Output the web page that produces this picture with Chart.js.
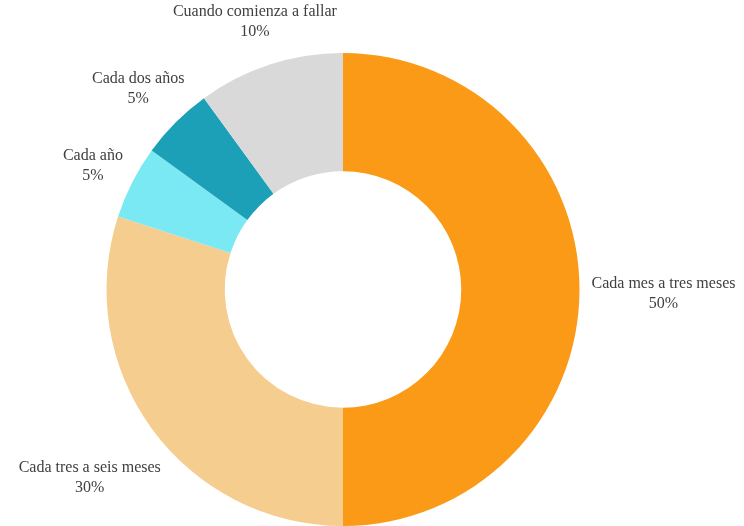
<!DOCTYPE html>
<html>
<head>
<meta charset="utf-8">
<script src="https://cdn.jsdelivr.net/npm/chart.js@4.4.1/dist/chart.umd.min.js"></script>
<style>
  html, body { margin: 0; padding: 0; background: #ffffff; }
  #wrap { width: 744px; height: 526px; }
</style>
</head>
<body>
<div id="wrap"><canvas id="chart" width="744" height="526"></canvas></div>
<script>
const categories = [
  "Cada mes a tres meses",
  "Cada tres a seis meses",
  "Cada año",
  "Cada dos años",
  "Cuando comienza a fallar"
];
const percentages = [50, 30, 5, 5, 10];
const sliceColors = ["#FA9A16", "#F5CE8F", "#7BE9F3", "#1BA0B7", "#D9D9D9"];

// draws "name / value%" outside each slice, like the original labels
const outsideLabels = {
  id: "outsideLabels",
  afterDatasetsDraw(chart) {
    const ctx = chart.ctx;
    const meta = chart.getDatasetMeta(0);
    ctx.save();
    ctx.font = "16px 'Liberation Serif', 'Times New Roman', serif";
    ctx.fillStyle = "#404040";
    ctx.textAlign = "center";
    ctx.textBaseline = "middle";
    const lineH = 20;
    meta.data.forEach((arc, i) => {
      const p = arc.getProps(["x", "y", "startAngle", "endAngle", "outerRadius"], true);
      const mid = (p.startAngle + p.endAngle) / 2;
      const lines = [categories[i], percentages[i] + "%"];
      const hw = Math.max(...lines.map(t => ctx.measureText(t).width)) / 2;
      const c = Math.cos(mid), s = Math.sin(mid);
      const dist = p.outerRadius + 12 + Math.abs(c) * hw + Math.abs(s) * 12;
      const cx = p.x + c * dist;
      const cy = p.y + s * dist + 4;
      ctx.fillText(lines[0], cx, cy - lineH / 2);
      ctx.fillText(lines[1], cx, cy + lineH / 2);
    });
    ctx.restore();
  }
};

new Chart(document.getElementById("chart").getContext("2d"), {
  type: "doughnut",
  data: {
    labels: categories,
    datasets: [{
      data: percentages,
      backgroundColor: sliceColors,
      borderWidth: 0
    }]
  },
  options: {
    responsive: false,
    animation: false,
    cutout: "50%",
    rotation: 0,
    layout: { padding: { top: 53, bottom: 0, left: 0, right: 58 } },
    plugins: {
      legend: { display: false },
      tooltip: { enabled: false }
    }
  },
  plugins: [outsideLabels]
});
</script>
</body>
</html>
